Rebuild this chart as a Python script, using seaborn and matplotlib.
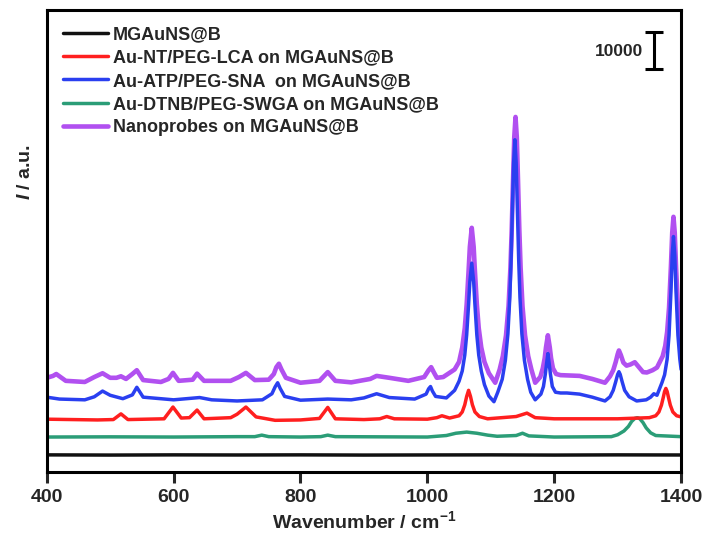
import pandas as pd
import matplotlib.pyplot as plt
import seaborn as sns

# Raman spectra (wavenumber in cm-1, intensity in counts)
black_wn = [400, 500, 600, 700, 800, 900, 1000, 1100, 1200, 1300, 1400]
black_I = [4500, 4450, 4500, 4470, 4500, 4450, 4480, 4500, 4450, 4500, 4470]

green_wn = [400, 500, 600, 700, 728, 739, 750, 800, 832, 843, 855, 1000, 1030, 1045, 1062, 1078,
            1095, 1110, 1140, 1150, 1160, 1200, 1290, 1300, 1310, 1317, 1322, 1327, 1331, 1335,
            1340, 1345, 1352, 1360, 1400]
green_I = [9200, 9250, 9200, 9300, 9300, 9700, 9300, 9200, 9300, 9700, 9300, 9200, 9600, 10200, 10500,
           10200, 9700, 9400, 9600, 10200, 9500, 9200, 9300, 9800, 10800, 12000, 13300, 14100, 14300,
           14000, 13000, 11600, 10300, 9600, 9300]

red_wn = [400, 480, 505, 517, 528, 585, 599, 612, 625, 637, 648, 690, 700, 714, 730, 760, 800,
          830, 843, 855, 900, 925, 936, 948, 1000, 1015, 1023, 1035, 1050, 1055, 1059, 1062, 1065,
          1068, 1071, 1075, 1082, 1095, 1140, 1157, 1170, 1200, 1300, 1350, 1360, 1365, 1369, 1372,
          1374, 1376, 1378, 1380, 1383, 1387, 1393, 1400]
red_I = [13900, 13700, 13800, 15300, 13800, 14000, 17100, 14200, 14300, 16300, 14000, 14300, 15200, 17100,
         14500, 13600, 13700, 14100, 17000, 14000, 13800, 14000, 14600, 14000, 13900, 14300, 14800, 14200,
         14800, 15800, 17700, 19900, 21500, 19900, 17700, 15800, 14600, 14000, 14600, 15500, 14300, 14000,
         14000, 14300, 14800, 15800, 17600, 19700, 21200, 22000, 21200, 19700, 17600, 15800, 14800, 14500]

blue_wn = [400, 420, 460, 475, 488, 500, 520, 535, 542, 552, 600, 641, 660, 700, 740, 755, 760, 764,
           768, 775, 800, 843, 880, 900, 920, 940, 980, 998, 1002, 1005, 1008, 1013, 1030, 1043, 1050,
           1055, 1059, 1062, 1065, 1067, 1070, 1073, 1075, 1078, 1081, 1085, 1090, 1097, 1105, 1111,
           1118, 1123, 1127, 1130, 1132, 1134, 1136, 1138, 1140, 1142, 1144, 1146, 1149, 1153, 1158,
           1163, 1170, 1179, 1183, 1186, 1188, 1190, 1192, 1194, 1197, 1202, 1210, 1220, 1240, 1260,
           1280, 1288, 1293, 1297, 1300, 1302, 1304, 1307, 1311, 1318, 1330, 1345, 1352, 1357, 1362,
           1370, 1374, 1378, 1381, 1384, 1386, 1388, 1390, 1392, 1395, 1398, 1400]
blue_I = [19700, 19200, 19000, 19800, 21300, 20200, 19300, 20300, 22300, 19700, 19000, 19600, 19000,
          18700, 19000, 20600, 22400, 23500, 22000, 19900, 18900, 19200, 19000, 19500, 20600, 19600,
          19200, 20500, 21900, 22500, 21300, 19900, 19500, 21500, 23900, 26600, 30800, 36100, 44100,
          50100, 55000, 50100, 44100, 36100, 30800, 26600, 23000, 20000, 18500, 21000, 24400, 29400,
          36400, 46000, 55800, 68500, 81500, 87500, 81500, 68500, 55800, 46000, 36400, 29400, 24400,
          21000, 19000, 20500, 22500, 25800, 28600, 31200, 28600, 25800, 22500, 21000, 20800, 20800,
          20500, 19700, 18700, 19800, 21500, 23800, 25700, 26400, 25700, 23800, 21500, 19800, 18700,
          19000, 19700, 20600, 20200, 23600, 25600, 29700, 36000, 47500, 57100, 62000, 57100, 47500,
          36000, 29700, 27000]

purple_wn = [400, 410, 415, 430, 460, 475, 488, 500, 510, 517, 525, 535, 542, 552, 580, 592, 599, 608,
             630, 637, 648, 690, 703, 714, 728, 750, 758, 762, 766, 770, 777, 800, 830, 843, 855, 880,
             910, 920, 940, 970, 995, 1002, 1006, 1010, 1015, 1025, 1043, 1050, 1055, 1059, 1062,
             1065, 1067, 1070, 1073, 1075, 1078, 1081, 1085, 1090, 1097, 1107, 1114, 1119, 1124,
             1128, 1131, 1133, 1135, 1137, 1139, 1141, 1143, 1145, 1147, 1150, 1154, 1159, 1164,
             1170, 1178, 1182, 1185, 1187, 1190, 1193, 1195, 1198, 1203, 1210, 1240, 1260, 1280,
             1288, 1293, 1297, 1300, 1302, 1305, 1309, 1314, 1320, 1327, 1334, 1340, 1346, 1355,
             1362, 1371, 1375, 1378, 1381, 1384, 1386, 1388, 1390, 1392, 1395, 1398, 1400]
purple_I = [24800, 25300, 25800, 24000, 23700, 25000, 26000, 24800, 24800, 25200, 24500, 25800, 26800,
            24200, 23700, 24500, 26100, 24000, 24300, 25900, 24000, 24000, 25000, 26100, 24200, 24300,
            25800, 27600, 28500, 27000, 24800, 23500, 24000, 26300, 24000, 23600, 24500, 25300, 24800,
            24000, 25000, 26800, 27600, 26300, 24800, 25000, 27000, 29000, 32800, 37900, 44200, 52900,
            59300, 64300, 59300, 52900, 44200, 37900, 32800, 29000, 26000, 23500, 27000, 30500, 36000,
            43700, 53900, 63800, 76300, 88200, 93500, 88200, 76300, 63800, 53900, 43700, 36000, 30500,
            27000, 23500, 25000, 27300, 30000, 32800, 36000, 32800, 30000, 27300, 25800, 25500, 25300,
            24500, 23500, 25200, 26800, 29000, 31000, 32000, 30800, 28800, 28000, 28300, 28900, 27500,
            26300, 26200, 26800, 27500, 30500, 33200, 36900, 43300, 54300, 63000, 67200, 63000, 54300,
            43300, 36900, 34000]

labels = ['MGAuNS@B', 'Au-NT/PEG-LCA on MGAuNS@B', 'Au-ATP/PEG-SNA  on MGAuNS@B',
          'Au-DTNB/PEG-SWGA on MGAuNS@B', 'Nanoprobes on MGAuNS@B']
colors = ['#111111', '#ff1f1f', '#2a3ff0', '#2b9d77', '#b150f0']
scale_value = 10000

series = [(black_wn, black_I), (red_wn, red_I), (blue_wn, blue_I), (green_wn, green_I), (purple_wn, purple_I)]

sns.set_style('white')
plt.rcParams['font.family'] = ['Liberation Sans', 'DejaVu Sans']
plt.rcParams['font.weight'] = 'bold'
plt.rcParams['mathtext.fontset'] = 'custom'
plt.rcParams['mathtext.rm'] = 'Liberation Sans:bold'
plt.rcParams['mathtext.it'] = 'Liberation Sans:italic:bold'

fig = plt.figure(figsize=(7.08, 5.40), dpi=100)
ax = fig.add_axes([0.066, 0.126, 0.896, 0.855])

# draw order: purple under blue, as in the original
order = [0, 3, 1, 4, 2]
handles = {}
for i in order:
    wn, inten = series[i]
    d = pd.DataFrame({'wn': wn, 'I': inten})
    lw = 3.3 if i == 4 else 2.5
    sns.lineplot(data=d, x='wn', y='I', color=colors[i], lw=lw, estimator=None, sort=False, ax=ax)
    handles[i] = ax.lines[-1]

ax.legend([handles[i] for i in range(5)], labels, loc='upper left', bbox_to_anchor=(0.0, 1.0),
          frameon=False, fontsize=13, handlelength=2.5, handletextpad=0.25, labelspacing=0.34,
          borderaxespad=0.5)

# 10000 scale bar
ax.errorbar([1357], [111000], yerr=scale_value / 2, fmt='none', ecolor='black',
            elinewidth=2.2, capsize=6.5, capthick=2.2)
ax.text(1340, 110700, str(scale_value), ha='right', va='center', fontsize=12.5, fontweight='bold')

ax.set_xlim(400, 1400)
ax.set_ylim(0, 121600)
ax.set_xticks([400, 600, 800, 1000, 1200, 1400])
ax.set_yticks([])
ax.tick_params(axis='x', direction='out', length=8, width=2.2, labelsize=14, pad=4, bottom=True)
for lab in ax.get_xticklabels():
    lab.set_fontweight('bold')
for sp in ax.spines.values():
    sp.set_linewidth(2.2)
    sp.set_color('black')

ax.set_xlabel('Wavenumber / cm$^{\\mathrm{-1}}$', fontsize=14, fontweight='bold', labelpad=3)
ax.set_ylabel('$I$ / a.u.', fontsize=14, fontweight='bold')
ax.yaxis.set_label_coords(-0.02, 0.65)

fig.savefig('out.png', dpi=100)
